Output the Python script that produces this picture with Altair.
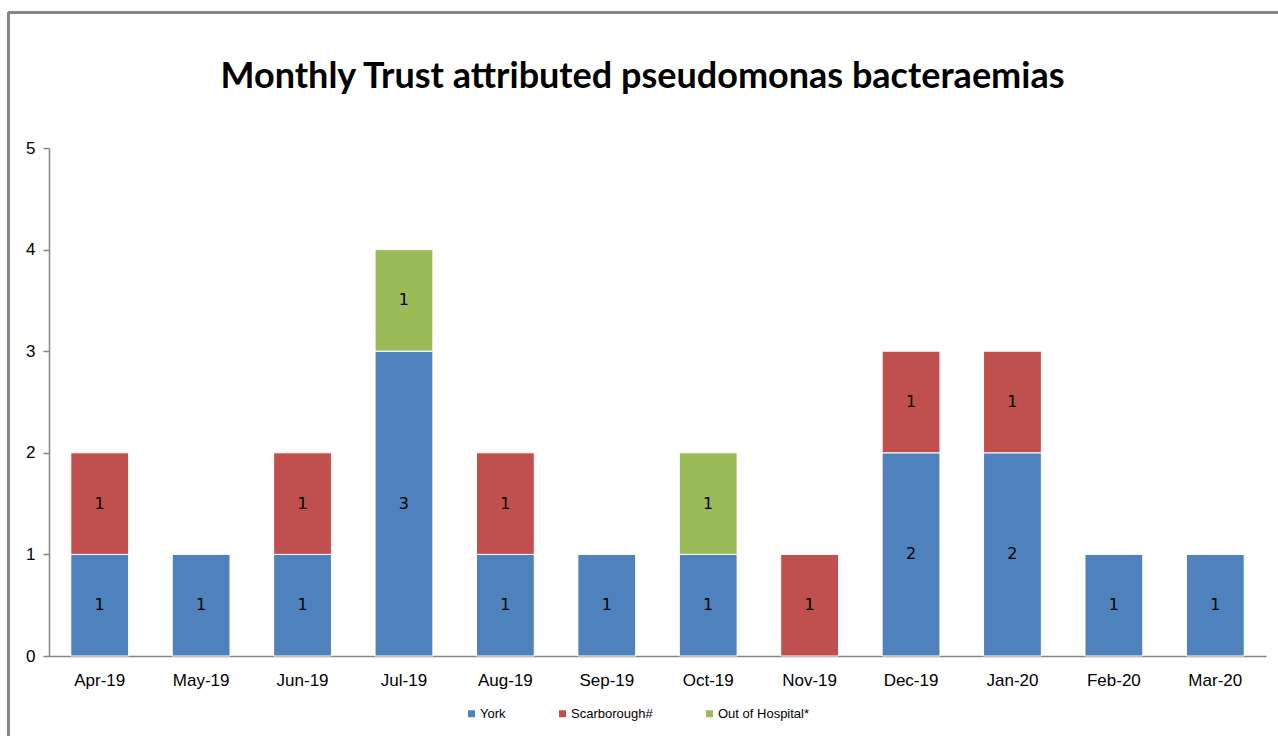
import altair as alt
import pandas as pd

months = ["Apr-19", "May-19", "Jun-19", "Jul-19", "Aug-19", "Sep-19",
          "Oct-19", "Nov-19", "Dec-19", "Jan-20", "Feb-20", "Mar-20"]
series = ["York", "Scarborough#", "Out of Hospital*"]
york = [1, 1, 1, 3, 1, 1, 1, 0, 2, 2, 1, 1]
scarborough = [1, 0, 1, 0, 1, 0, 0, 1, 1, 1, 0, 0]
out_of_hospital = [0, 0, 0, 1, 0, 0, 1, 0, 0, 0, 0, 0]
colors = ["#4F81BD", "#C0504D", "#9BBB59"]

rows = []
for idx, (name, vals) in enumerate(zip(series, [york, scarborough, out_of_hospital])):
    for m, v in zip(months, vals):
        if v > 0:
            rows.append({"month": m, "series": name, "order": idx, "count": v})
df = pd.DataFrame(rows)

W, H = 1217, 508
axis_gray = "#868686"

base = alt.Chart(df).transform_stack(
    stack="count", groupby=["month"], as_=["y0", "y1"],
    sort=[alt.SortField("order", order="ascending")],
).transform_calculate(mid="(datum.y0 + datum.y1) / 2")

x_enc = alt.X("month:N", sort=months,
              scale=alt.Scale(paddingInner=0.43, paddingOuter=0.215),
              axis=alt.Axis(title=None, labelAngle=0, ticks=False, domainColor=axis_gray,
                            domainWidth=1.5, labelFont="Liberation Sans", labelFontSize=17,
                            labelColor="#000000", labelPadding=16))

bars = base.mark_bar(stroke="white", strokeWidth=1).encode(
    x=x_enc,
    y=alt.Y("y0:Q", scale=alt.Scale(domain=[0, 5]),
            axis=alt.Axis(title=None, values=[0, 1, 2, 3, 4, 5], format="d", grid=False,
                          domainColor=axis_gray, domainWidth=1.5, tickColor=axis_gray,
                          tickSize=6, tickWidth=1.5, labelFont="Liberation Sans",
                          labelFontSize=17, labelColor="#000000", labelPadding=8)),
    y2="y1:Q",
    color=alt.Color("series:N", scale=alt.Scale(domain=series, range=colors),
                    legend=alt.Legend(title=None, orient="none", direction="horizontal",
                                      legendX=416, legendY=559, symbolType="square",
                                      symbolSize=49, symbolStrokeWidth=0,
                                      labelFont="Liberation Sans", labelFontSize=13,
                                      labelColor="#000000", labelOffset=2,
                                      columnPadding=50)),
)

labels = base.mark_text(font="DejaVu Sans", fontSize=16, color="#000000").encode(
    x=alt.X("month:N", sort=months),
    y=alt.Y("mid:Q"),
    text=alt.Text("count:Q", format="d"),
)

# outer frame of the chart area (left and top edges)
frame_left = alt.Chart(df).mark_rule(color=axis_gray, strokeWidth=2, clip=False).encode(
    x=alt.value(-40.5), y=alt.value(-135.5), y2=alt.value(600))
frame_top = alt.Chart(df).mark_rule(color=axis_gray, strokeWidth=2, clip=False).encode(
    x=alt.value(-40.5), x2=alt.value(1240), y=alt.value(-135.5))

chart = alt.layer(bars, labels, frame_left, frame_top).properties(
    width=W, height=H,
    title=alt.Title("Monthly Trust attributed pseudomonas bacteraemias",
                    font="Lato", fontSize=36, fontWeight="bold", color="#000000",
                    anchor="middle", frame="group", baseline="alphabetic",
                    dx=-15, offset=-112),
    autosize=alt.AutoSizeParams(type="none"),
    padding={"left": 49, "top": 148, "right": 12, "bottom": 80},
).configure(background="white").configure_view(strokeWidth=0)

chart.save("out.html", embed_options={"renderer": "svg", "actions": False})
